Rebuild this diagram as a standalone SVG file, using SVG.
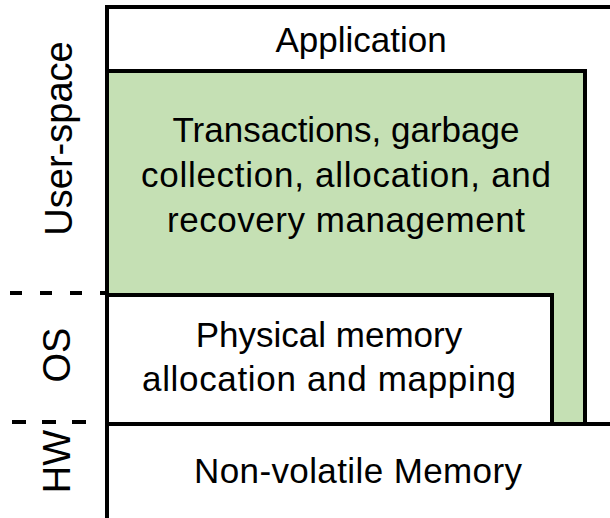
<svg xmlns="http://www.w3.org/2000/svg" width="610" height="518" viewBox="0 0 610 518">
<style>
.box{stroke:#000;stroke-width:4;}
.t{font-family:"Liberation Sans",Arial,sans-serif;font-size:35px;fill:#000;text-anchor:middle;}
.lbl{font-family:"Liberation Sans",Arial,sans-serif;font-size:38px;fill:#000;text-anchor:middle;}
.dash{stroke:#000;stroke-width:4;fill:none;}
</style>
<rect width="610" height="518" fill="#fff"/>
<g id="application">
<rect class="box" x="107" y="7" width="512" height="513" fill="#fff"/>
<text class="t" x="361" y="52">Application</text>
</g>
<g id="runtime">
<rect class="box" x="107" y="71" width="478" height="353" fill="#C5E0B4"/>
<text class="t" x="346" y="142">Transactions, garbage</text>
<text class="t" x="346" y="187" textLength="410" lengthAdjust="spacing">collection, allocation, and</text>
<text class="t" x="346" y="232" textLength="358" lengthAdjust="spacing">recovery management</text>
</g>
<g id="os-memory">
<rect class="box" x="107" y="295" width="445" height="129" fill="#fff"/>
<text class="t" x="329" y="347">Physical memory</text>
<text class="t" x="329" y="391" textLength="374" lengthAdjust="spacing">allocation and mapping</text>
</g>
<g id="nvm">
<rect class="box" x="107" y="424" width="512" height="96" fill="#fff"/>
<text class="t" x="358" y="483" textLength="328" lengthAdjust="spacing">Non-volatile Memory</text>
</g>
<g id="layers">
<line class="dash" x1="10" y1="293" x2="105" y2="293" stroke-dasharray="12 18"/>
<line class="dash" x1="12" y1="422" x2="90" y2="422" stroke-dasharray="14 16"/>
<text class="lbl" transform="translate(72,138.5) rotate(-90)">User-space</text>
<text class="lbl" transform="translate(70,355) rotate(-90)">OS</text>
<text class="lbl" transform="translate(70,461.5) rotate(-90)">HW</text>
</g>
</svg>
